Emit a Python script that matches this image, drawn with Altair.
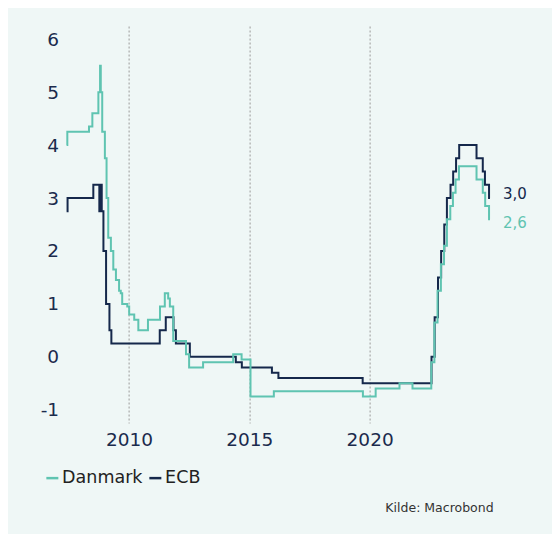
import altair as alt
import pandas as pd

# ---- data (decimal years, percent) ----
dk_dates = [2007.41, 2007.44, 2008.34, 2008.48, 2008.73, 2008.80, 2008.83, 2008.89, 2009.00, 2009.07,
            2009.14, 2009.25, 2009.35, 2009.46, 2009.59, 2009.66, 2009.72, 2009.93, 2010.01, 2010.22,
            2010.39, 2010.79, 2011.29, 2011.49, 2011.63, 2011.70, 2011.84, 2012.37, 2012.50, 2013.08,
            2014.33, 2014.68, 2015.05, 2016.02, 2019.72, 2020.25, 2021.24, 2021.78, 2022.56, 2022.69,
            2022.82, 2022.96, 2023.09, 2023.21, 2023.35, 2023.46, 2023.57, 2023.71, 2024.44, 2024.70,
            2024.80, 2024.96, 2025.0]
dk_values = [4.0, 4.25, 4.35, 4.6, 5.0, 5.5, 5.0, 4.25, 3.75, 3.0,
             2.25, 2.0, 1.65, 1.45, 1.25, 1.2, 1.0, 0.95, 0.8, 0.7,
             0.5, 0.7, 0.95, 1.2, 1.1, 0.95, 0.3, 0.05, -0.2, -0.1,
             0.05, -0.05, -0.75, -0.65, -0.75, -0.6, -0.5, -0.6, -0.1, 0.65,
             1.25, 1.75, 2.1, 2.6, 2.85, 3.1, 3.35, 3.6, 3.35, 3.1,
             2.85, 2.6, 2.6]

ecb_dates = [2007.41, 2007.45, 2008.52, 2008.77, 2008.79, 2008.87, 2008.94, 2009.05, 2009.19, 2009.27,
             2011.28, 2011.53, 2011.85, 2011.95, 2012.53, 2014.44, 2014.69, 2015.94, 2016.21, 2019.71,
             2022.57, 2022.70, 2022.84, 2022.97, 2023.10, 2023.21, 2023.36, 2023.47, 2023.59, 2023.72,
             2024.44, 2024.70, 2024.79, 2024.96, 2025.0]
ecb_values = [2.75, 3.0, 3.25, 2.75, 3.25, 2.75, 2.0, 1.0, 0.5, 0.25,
              0.5, 0.75, 0.5, 0.25, 0.0, -0.1, -0.2, -0.3, -0.4, -0.5,
              0.0, 0.75, 1.5, 2.0, 2.5, 3.0, 3.25, 3.5, 3.75, 4.0,
              3.75, 3.5, 3.25, 3.0, 3.0]

series_names = ["Danmark", "ECB"]
series_colors = ["#5FC4B1", "#15284B"]
x_ticks = [2010, 2015, 2020]
y_ticks = [-1, 0, 1, 2, 3, 4, 5, 6]
source_note = "Kilde: Macrobond"

FONT = "DejaVu Sans"
NAVY = "#1B2B4D"
BG = "#EFF7F6"

dk = pd.DataFrame({"date": dk_dates, "rate": dk_values, "serie": "Danmark"})
ecb = pd.DataFrame({"date": ecb_dates, "rate": ecb_values, "serie": "ECB"})

x_scale = alt.Scale(domain=[2007.41, 2025.0], nice=False, zero=False)
y_scale = alt.Scale(domain=[-1.25, 6.25], nice=False, zero=False)
color_scale = alt.Scale(domain=series_names, range=series_colors)

x_enc = alt.X("date:Q", scale=x_scale,
              axis=alt.Axis(values=x_ticks, format="d", title=None, grid=True,
                            gridDash=[2, 2], gridColor="#9A9A9A", gridWidth=1,
                            domain=False, ticks=False, labelPadding=7,
                            labelFontSize=18.5, labelColor=NAVY, labelFont=FONT))
y_enc = alt.Y("rate:Q", scale=y_scale,
              axis=alt.Axis(values=y_ticks, title=None, grid=False, domain=False,
                            ticks=False, labelPadding=8, labelFontSize=18.5,
                            labelColor=NAVY, labelFont=FONT,
                            labelExpr="'' + datum.value"))

legend = alt.Legend(title=None, orient="none", direction="horizontal",
                    legendX=-23, legendY=443, symbolType="stroke",
                    symbolSize=144, symbolStrokeWidth=2.5, labelOffset=1,
                    columnPadding=1, labelFontSize=17.5, labelColor="#222222",
                    labelFont=FONT)

ecb_line = alt.Chart(ecb).mark_line(interpolate="step-after", strokeWidth=2).encode(
    x=x_enc, y=y_enc,
    color=alt.Color("serie:N", scale=color_scale, legend=legend),
)
dk_line = alt.Chart(dk).mark_line(interpolate="step-after", strokeWidth=2).encode(
    x=x_enc, y=y_enc,
    color=alt.Color("serie:N", scale=color_scale, legend=legend),
)

last_ecb = pd.DataFrame({"date": [ecb_dates[-1]], "rate": [ecb_values[-1]],
                         "label": [f"{ecb_values[-1]:.1f}".replace(".", ",")]})
last_dk = pd.DataFrame({"date": [dk_dates[-1]], "rate": [dk_values[-1]],
                        "label": [f"{dk_values[-1]:.1f}".replace(".", ",")]})

ecb_lab = alt.Chart(last_ecb).mark_text(align="left", baseline="middle", dx=13, dy=-4,
                                        fontSize=15, font=FONT, color=series_colors[1]).encode(
    x=alt.X("date:Q", scale=x_scale), y=alt.Y("rate:Q", scale=y_scale), text="label:N")
dk_lab = alt.Chart(last_dk).mark_text(align="left", baseline="middle", dx=13, dy=4,
                                      fontSize=15, font=FONT, color=series_colors[0]).encode(
    x=alt.X("date:Q", scale=x_scale), y=alt.Y("rate:Q", scale=y_scale), text="label:N")

note = alt.Chart(pd.DataFrame({"t": [source_note]})).mark_text(
    align="right", baseline="middle", fontSize=12.5, font=FONT, color="#333333"
).encode(x=alt.value(427), y=alt.value(482), text="t:N")

chart = alt.layer(ecb_line, dk_line, ecb_lab, dk_lab, note).properties(
    width=423.4, height=397,
    autosize=alt.AutoSizeParams(type="none"),
    padding={"left": 58.6, "top": 18, "right": 62, "bottom": 111},
    background=BG,
).configure(font=FONT, view=alt.ViewConfig(stroke=None))

chart.save("out.html", embed_options={"renderer": "svg", "actions": False})
